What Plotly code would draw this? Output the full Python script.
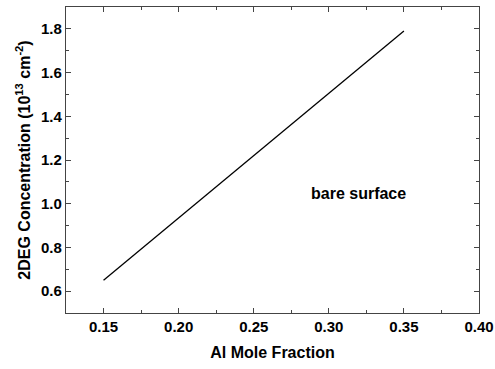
import plotly.graph_objects as go

al_fraction = [0.15, 0.20, 0.25, 0.30, 0.35]
concentration = [0.65, 0.935, 1.22, 1.505, 1.79]
annotation_text = "bare surface"

FAM = "Liberation Sans, Arial, sans-serif"

fig = go.Figure()
fig.add_trace(go.Scatter(x=al_fraction, y=concentration, mode="lines",
                         line=dict(color="black", width=1.3), showlegend=False))

axis_common = dict(showline=True, linecolor="#444", linewidth=1.2, mirror="ticks",
                   ticks="inside", ticklen=5, tickcolor="#444", tickwidth=1,
                   showgrid=False, zeroline=False, automargin=False,
                   tickfont=dict(family=FAM, size=15, color="black", weight="bold"))

fig.update_xaxes(range=[0.125, 0.40], tickvals=[0.15, 0.20, 0.25, 0.30, 0.35, 0.40],
                 ticktext=["0.15", "0.20", "0.25", "0.30", "0.35", "0.40"],
                 minor=dict(ticks="inside", ticklen=3, tickcolor="#444", dtick=0.025, tick0=0.125),
                 title=dict(text="<b>Al Mole Fraction</b>", font=dict(size=16, family=FAM, color="black"), standoff=12),
                 **axis_common)
fig.update_yaxes(range=[0.5, 1.9], tickvals=[0.6, 0.8, 1.0, 1.2, 1.4, 1.6, 1.8],
                 ticktext=["0.6", "0.8", "1.0", "1.2", "1.4", "1.6", "1.8"],
                 minor=dict(ticks="inside", ticklen=3, tickcolor="#444", dtick=0.1, tick0=0.5),
                 title=dict(text="<b>2DEG Concentration (10<sup>13</sup> cm<sup>-2</sup>)</b>", font=dict(size=16, family=FAM, color="black"), standoff=6),
                 **axis_common)

fig.add_annotation(x=0.32, y=1.045, text="<b>" + annotation_text + "</b>", showarrow=False,
                   font=dict(family=FAM, size=16, color="black"))

fig.update_layout(width=495, height=369, margin=dict(l=66, r=16, t=7, b=56),
                  plot_bgcolor="white", paper_bgcolor="white",
                  font=dict(family=FAM, size=14, color="black"))

fig.write_html("out.html")
